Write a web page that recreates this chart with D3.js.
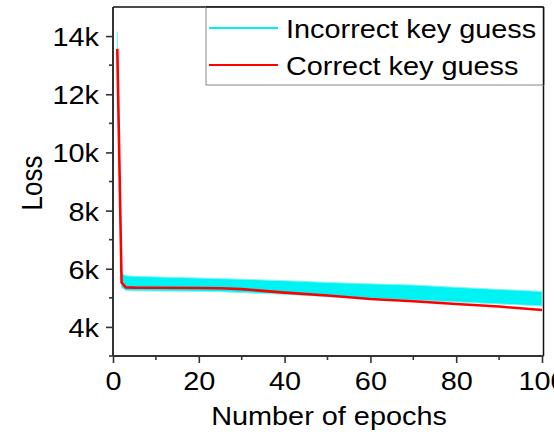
<!DOCTYPE html>
<html>
<head>
<meta charset="utf-8">
<script src="https://cdn.jsdelivr.net/npm/d3@7"></script>
<style>
  html, body { margin: 0; padding: 0; background: #fff; }
  svg { display: block; }
  text { font-family: "Liberation Sans", Arial, sans-serif; fill: #000; }
</style>
</head>
<body>
<svg id="chart" width="554" height="434"></svg>
<script>
// ---- data ----
const epochs        = [1, 2, 3, 5, 10, 20, 25, 30, 40, 50, 60, 70, 80, 90, 100];
const correctLoss   = [13560, 5520, 5360, 5350, 5345, 5340, 5330, 5300, 5180, 5080, 4960, 4880, 4790, 4700, 4580];
const incorrectMax  = [14150, 5850, 5760, 5740, 5720, 5680, 5660, 5640, 5590, 5530, 5480, 5440, 5360, 5290, 5220];
const incorrectMin  = [13400, 5350, 5260, 5240, 5235, 5225, 5210, 5180, 5120, 5040, 4980, 4920, 4860, 4790, 4720];
const xMajorTicks   = [0, 20, 40, 60, 80, 100];
const xMinorTicks   = [10, 30, 50, 70, 90];
const yMajorTicks   = [4000, 6000, 8000, 10000, 12000, 14000];
const yMinorTicks   = [3000, 5000, 7000, 9000, 11000, 13000];
const legendLabels  = ["Incorrect key guess", "Correct key guess"];
const seriesColors  = ["#00f2f2", "#ff0000"];

const STRETCH = 1.11;
const svg = d3.select("#chart");
const x = d3.scaleLinear().domain([0, 100]).range([113, 542]);
const y = d3.scaleLinear().domain([3000, 15000]).range([356, 7]);

const plotRight = x(100) + 1.5;

// ---- incorrect band ----
const bandData = epochs.map((e, i) => ({ e, lo: incorrectMin[i], hi: incorrectMax[i] }));
svg.append("path")
  .datum(bandData)
  .attr("fill", seriesColors[0])
  .attr("stroke", "#7ff5f5")
  .attr("stroke-width", 1)
  .attr("d", d3.area().x(d => x(d.e)).y0(d => y(d.lo)).y1(d => y(d.hi)));

// ---- correct line ----
svg.append("path")
  .datum(epochs.map((e, i) => ({ e, v: correctLoss[i] })))
  .attr("fill", "none")
  .attr("stroke", seriesColors[1])
  .attr("stroke-width", 2.6)
  .attr("stroke-linejoin", "round")
  .attr("d", d3.line().x(d => x(d.e)).y(d => y(d.v)));

// ---- frame (top & right) ----
svg.append("line").attr("x1", x(0)).attr("x2", plotRight).attr("y1", y(15000)).attr("y2", y(15000))
  .attr("stroke", "#111").attr("stroke-width", 1.5);
svg.append("line").attr("x1", plotRight).attr("x2", plotRight).attr("y1", y(15000)).attr("y2", y(3000))
  .attr("stroke", "#111").attr("stroke-width", 1.5);

function stretchText(sel, axis) {
  sel.each(function () {
    const t = d3.select(this);
    const tx = +t.attr("x") || 0;
    t.attr("transform", `translate(${tx},0) scale(${STRETCH},1) translate(${-tx},0)`);
  });
}

// ---- y axis ----
const yAxisG = svg.append("g").attr("transform", `translate(${x(0)},0)`)
  .call(d3.axisLeft(y).tickValues(yMajorTicks).tickFormat(d => (d / 1000) + "k")
    .tickSize(7).tickPadding(7).tickSizeOuter(0));
yAxisG.select(".domain").attr("stroke", "#333").attr("stroke-width", 2)
  .attr("d", `M0,${y(3000)}V${y(15000)}`);
yAxisG.selectAll(".tick line").attr("stroke", "#333").attr("stroke-width", 1.6);
yAxisG.selectAll(".tick text").attr("font-size", 26).attr("dy", null).attr("y", 9.5)
  .attr("font-family", "Liberation Sans, Arial, sans-serif").call(stretchText);
svg.append("g").attr("transform", `translate(${x(0)},0)`)
  .selectAll("line").data(yMinorTicks).join("line")
  .attr("x1", -4).attr("x2", 0).attr("y1", d => y(d)).attr("y2", d => y(d))
  .attr("stroke", "#333").attr("stroke-width", 1.6);

// ---- x axis ----
const xAxisG = svg.append("g").attr("transform", `translate(0,${y(3000)})`)
  .call(d3.axisBottom(x).tickValues(xMajorTicks).tickFormat(d3.format("d"))
    .tickSize(7).tickSizeOuter(0));
xAxisG.select(".domain").attr("stroke", "#333").attr("stroke-width", 2)
  .attr("d", `M${x(0)},0H${plotRight}`);
xAxisG.selectAll(".tick line").attr("stroke", "#333").attr("stroke-width", 1.6);
xAxisG.selectAll(".tick text").attr("font-size", 26).attr("dy", null).attr("y", 34)
  .attr("font-family", "Liberation Sans, Arial, sans-serif").call(stretchText);
svg.append("g").attr("transform", `translate(0,${y(3000)})`)
  .selectAll("line").data(xMinorTicks).join("line")
  .attr("x1", d => x(d)).attr("x2", d => x(d)).attr("y1", 0).attr("y2", 4)
  .attr("stroke", "#333").attr("stroke-width", 1.6);

// ---- axis titles ----
svg.append("text")
  .attr("transform", `translate(329,425) scale(${STRETCH},1)`)
  .attr("text-anchor", "middle").attr("font-size", 26)
  .text("Number of epochs");
svg.append("text")
  .attr("transform", `translate(42,183) scale(${STRETCH},1) rotate(-90)`)
  .attr("text-anchor", "middle").attr("font-size", 26)
  .text("Loss");

// ---- legend ----
const lg = svg.append("g");
lg.append("rect").attr("x", 206).attr("y", y(15000)).attr("width", plotRight - 206).attr("height", 85 - y(15000))
  .attr("fill", "#fff").attr("stroke", "#888").attr("stroke-width", 1);
// redraw frame segment over legend edge
svg.append("line").attr("x1", 206).attr("x2", plotRight).attr("y1", y(15000)).attr("y2", y(15000))
  .attr("stroke", "#111").attr("stroke-width", 1.5);
svg.append("line").attr("x1", plotRight).attr("x2", plotRight).attr("y1", y(15000)).attr("y2", 85)
  .attr("stroke", "#111").attr("stroke-width", 1.5);
const legendY = [28, 65];
legendLabels.forEach((lab, i) => {
  lg.append("line").attr("x1", 209).attr("x2", 278).attr("y1", legendY[i]).attr("y2", legendY[i])
    .attr("stroke", seriesColors[i]).attr("stroke-width", 2);
  lg.append("text").attr("transform", `translate(286,${legendY[i] + 9.5}) scale(${STRETCH},1)`)
    .attr("font-size", 26).text(lab);
});
</script>
</body>
</html>
